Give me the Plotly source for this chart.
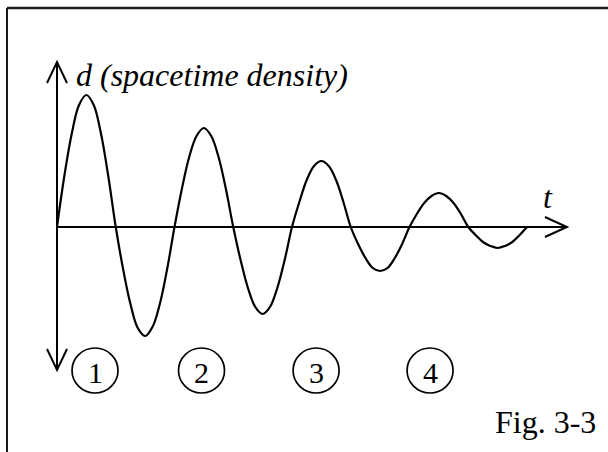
import plotly.graph_objects as go

# ---- data (t in half-periods, d in arbitrary units) ----
curve_t = [i / 8 for i in range(65)]
curve_d = [0, 51, 93, 122, 132, 122, 93, 50,
           0, -42, -77, -101, -109, -100, -77, -42,
           0, 38, 70, 91, 99, 91, 70, 38,
           0, -33, -61, -80, -87, -80, -61, -33,
           0, 25, 47, 61, 66, 61, 47, 25,
           0, -17, -31, -41, -44, -41, -31, -17,
           0, 13, 24, 31, 34, 31, 24, 13,
           0, -8, -15, -19, -21, -19, -15, -8,
           0]
label_t = [0.647, 2.46, 4.41, 6.35]
label_text = ["1", "2", "3", "4"]

W, H = 608, 452
X_RANGE = [-0.9702, 9.3787]
Y_RANGE = [-225, 227]
px_t = (X_RANGE[1] - X_RANGE[0]) / W   # t per pixel
px_d = (Y_RANGE[1] - Y_RANGE[0]) / H   # d per pixel

fig = go.Figure()
fig.add_trace(go.Scatter(x=curve_t, y=curve_d, mode="lines",
                         line=dict(color="black", width=2.2, shape="spline", smoothing=1.0),
                         hoverinfo="skip", showlegend=False))

shapes = []
LW = 2
# axes
y_top, y_bot = 165, -143
x_end = 8.68
shapes.append(dict(type="line", xref="x", yref="y", x0=0, x1=0, y0=y_bot, y1=y_top,
                   line=dict(color="black", width=LW)))
shapes.append(dict(type="line", xref="x", yref="y", x0=0, x1=x_end, y0=0, y1=0,
                   line=dict(color="black", width=LW)))
# open arrow heads
wing_w, wing_l = 10, 21
def v_path(pts):
    return "M " + " L ".join(f"{a},{b}" for a, b in pts)
shapes.append(dict(type="path", xref="x", yref="y",
                   path=v_path([(-wing_w*px_t, y_top - wing_l*px_d), (0, y_top), (wing_w*px_t, y_top - wing_l*px_d)]),
                   line=dict(color="black", width=LW)))
shapes.append(dict(type="path", xref="x", yref="y",
                   path=v_path([(-wing_w*px_t, y_bot + wing_l*px_d), (0, y_bot), (wing_w*px_t, y_bot + wing_l*px_d)]),
                   line=dict(color="black", width=LW)))
shapes.append(dict(type="path", xref="x", yref="y",
                   path=v_path([(x_end - 22*px_t, 10*px_d), (x_end, 0), (x_end - 22*px_t, -10*px_d)]),
                   line=dict(color="black", width=LW)))
# frame (left and top)
fx, fy = 7 / W, 1 - 8 / H
shapes.append(dict(type="line", xref="paper", yref="paper", x0=fx, x1=1.01, y0=fy, y1=fy,
                   line=dict(color="#1a1a1a", width=2.5)))
shapes.append(dict(type="line", xref="paper", yref="paper", x0=fx, x1=fx, y0=-0.01, y1=fy,
                   line=dict(color="#1a1a1a", width=2)))
# numbered circles
cy = (227 - 370.5) * px_d
r_t, r_d = 23 * px_t, 22.5 * px_d
annotations = []
for t, s in zip(label_t, label_text):
    shapes.append(dict(type="circle", xref="x", yref="y", x0=t - r_t, x1=t + r_t,
                       y0=cy - r_d, y1=cy + r_d, line=dict(color="black", width=1.7)))
    annotations.append(dict(x=t, y=cy - 1.5 * px_d, xref="x", yref="y", text=s, showarrow=False,
                            font=dict(family="Liberation Serif", size=30, color="black"),
                            xanchor="center", yanchor="middle"))

annotations.append(dict(x=(74 / W), y=1 - 75 / H, xref="paper", yref="paper",
                        text="<i>d (spacetime density)</i>", showarrow=False,
                        font=dict(family="Liberation Serif", size=32, color="black"),
                        xanchor="left", yanchor="middle"))
annotations.append(dict(x=(541 / W), y=1 - 197 / H, xref="paper", yref="paper",
                        text="<i>t</i>", showarrow=False,
                        font=dict(family="Liberation Serif", size=32, color="black"),
                        xanchor="left", yanchor="middle"))
annotations.append(dict(x=(598 / W), y=1 - 422 / H, xref="paper", yref="paper",
                        text="Fig. 3-3", showarrow=False,
                        font=dict(family="Liberation Serif", size=32, color="black"),
                        xanchor="right", yanchor="middle"))

fig.update_layout(width=W, height=H, autosize=False,
                  margin=dict(l=0, r=0, t=0, b=0),
                  paper_bgcolor="white", plot_bgcolor="white",
                  xaxis=dict(range=X_RANGE, visible=False, fixedrange=True),
                  yaxis=dict(range=Y_RANGE, visible=False, fixedrange=True),
                  shapes=shapes, annotations=annotations, showlegend=False)

fig.write_html("out.html", config={"displayModeBar": False},
               post_script="document.body.style.margin='0px';document.body.style.overflow='hidden';")
